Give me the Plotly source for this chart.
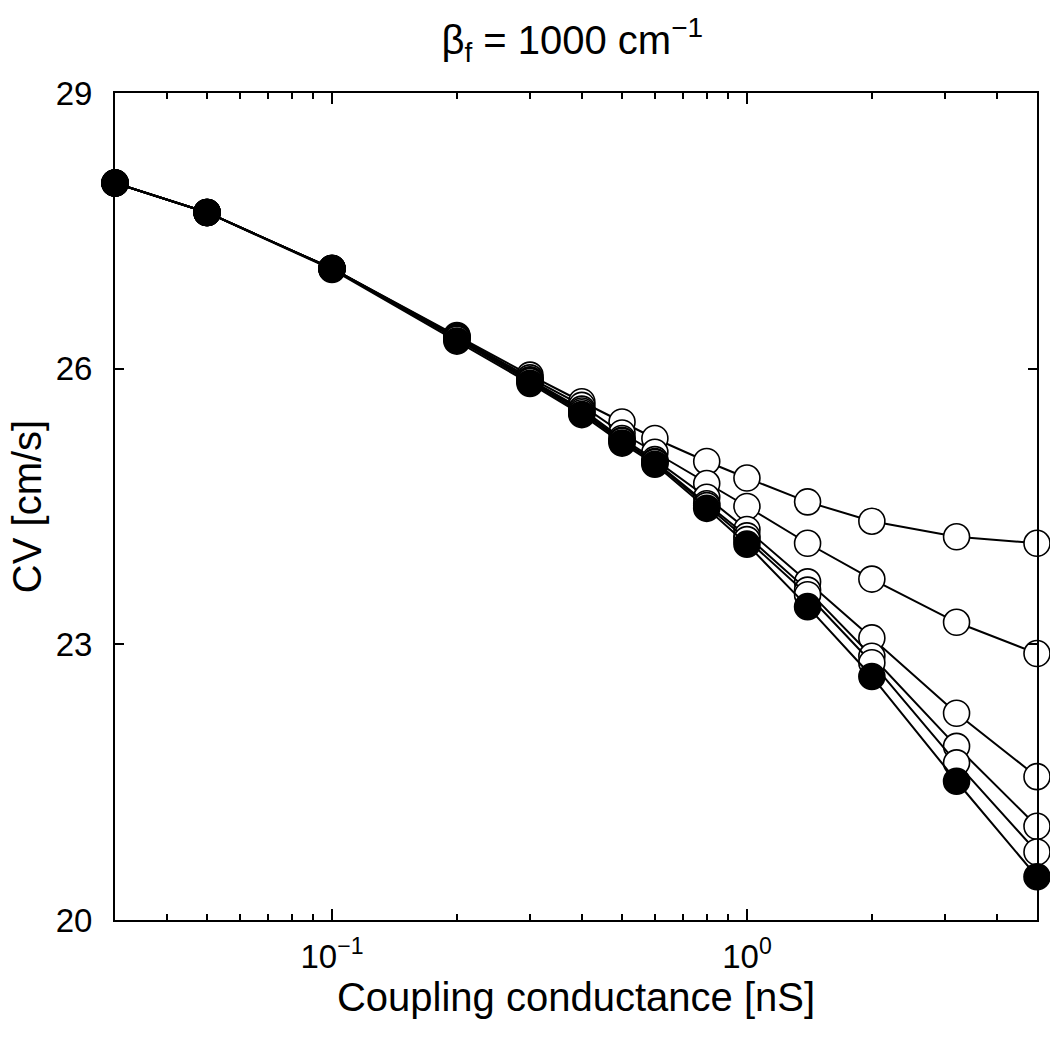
import plotly.graph_objects as go

# Coupling conductance [nS]
g = [0.03, 0.05, 0.1, 0.2, 0.3, 0.4, 0.5, 0.6, 0.8, 1.0, 1.4, 2.0, 3.2, 5.0]

# CV [cm/s] for six series (five open, one filled)
cv_a = [28.02, 27.70, 27.09, 26.36, 25.93, 25.64, 25.42, 25.24, 24.99, 24.81, 24.55, 24.34, 24.17, 24.10]
cv_b = [28.02, 27.70, 27.09, 26.35, 25.90, 25.60, 25.30, 25.09, 24.75, 24.50, 24.10, 23.71, 23.24, 22.90]
cv_c = [28.02, 27.70, 27.09, 26.34, 25.88, 25.56, 25.24, 25.01, 24.60, 24.25, 23.68, 23.07, 22.25, 21.56]
cv_d = [28.02, 27.70, 27.09, 26.33, 25.87, 25.54, 25.22, 24.99, 24.53, 24.18, 23.59, 22.87, 21.89, 21.02]
cv_e = [28.02, 27.70, 27.09, 26.32, 25.86, 25.52, 25.21, 24.98, 24.51, 24.14, 23.54, 22.80, 21.71, 20.74]
cv_f = [28.02, 27.70, 27.08, 26.30, 25.84, 25.50, 25.19, 24.96, 24.48, 24.09, 23.41, 22.65, 21.51, 20.47]

open_series = [cv_a, cv_b, cv_c, cv_d, cv_e]
filled_series = cv_f

x_major_vals = [0.1, 1]
x_major_text = ["10<sup>\u22121</sup>", "10<sup>0</sup>"]
x_minor_vals = [0.04, 0.05, 0.06, 0.07, 0.08, 0.09,
                0.2, 0.3, 0.4, 0.5, 0.6, 0.7, 0.8, 0.9,
                2, 3, 4]
y_ticks = [20, 23, 26, 29]

FONT = "Liberation Sans, Arial, Helvetica, sans-serif"

fig = go.Figure()
for ys in open_series:
    fig.add_trace(go.Scatter(
        x=g, y=ys, mode="lines+markers",
        line=dict(color="black", width=2),
        marker=dict(size=26, color="white", line=dict(color="black", width=1.6)),
        cliponaxis=False, showlegend=False,
    ))
fig.add_trace(go.Scatter(
    x=g, y=filled_series, mode="lines+markers",
    line=dict(color="black", width=2),
    marker=dict(size=26, color="black", line=dict(color="black", width=1.6)),
    cliponaxis=False, showlegend=False,
))

fig.update_layout(
    width=1050, height=1040,
    margin=dict(l=115, r=13, t=93, b=120),
    paper_bgcolor="white", plot_bgcolor="white",
    font=dict(family=FONT, color="black", size=32),
    title=dict(text="\u03b2<sub>f</sub> = 1000 cm<sup>\u22121</sup>",
               x=0.545, xanchor="center", y=0.9615, yanchor="middle",
               font=dict(size=40, family=FONT, color="black")),
)

fig.update_xaxes(
    type="log",
    range=[-1.52290, 0.69900],
    tickvals=x_major_vals, ticktext=x_major_text,
    ticks="inside", ticklen=11, tickwidth=1.5, tickcolor="black",
    minor=dict(tickvals=x_minor_vals, ticks="inside", ticklen=6,
               tickwidth=1.5, tickcolor="black", showgrid=False),
    showline=True, linecolor="black", linewidth=2, mirror="allticks",
    showgrid=False, zeroline=False,
    tickfont=dict(size=33, family=FONT, color="black"),
    ticklabelstandoff=6,
    title=dict(text="Coupling conductance [nS]",
               font=dict(size=40, family=FONT, color="black"), standoff=4),
)
fig.update_yaxes(
    range=[20, 29],
    tickvals=y_ticks,
    ticks="inside", ticklen=9, tickwidth=1.5, tickcolor="black",
    showline=True, linecolor="black", linewidth=2, mirror="allticks",
    showgrid=False, zeroline=False,
    tickfont=dict(size=33, family=FONT, color="black"),
    ticklabelstandoff=14,
    title=dict(text="CV [cm/s]",
               font=dict(size=40, family=FONT, color="black"), standoff=2),
)

fig.write_html(
    "out.html",
    config={"displayModeBar": False},
    post_script="document.body.style.margin='0';document.body.style.overflow='hidden';",
)
